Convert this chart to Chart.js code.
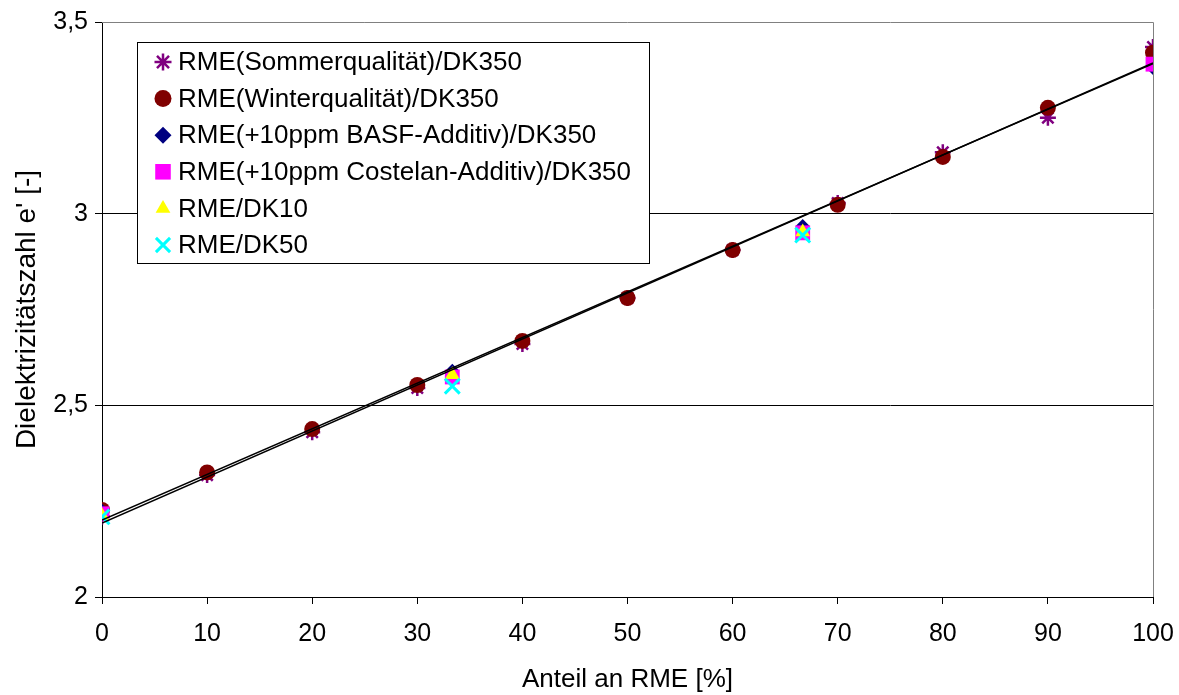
<!DOCTYPE html>
<html>
<head>
<meta charset="utf-8">
<script src="https://cdn.jsdelivr.net/npm/chart.js@4"></script>
<style>
  html, body { margin: 0; padding: 0; background: #fff; }
  #wrap { width: 1179px; height: 695px; }
</style>
</head>
<body>
<div id="wrap"><canvas id="grafico" width="1179" height="695"></canvas></div>
<script>
const anteil = [0, 10, 20, 30, 40, 50, 60, 70, 80, 90, 100]
const sommer = [2.21, 2.318, 2.43, 2.545, 2.66, 2.78, 2.905, 3.028, 3.16, 3.25, 3.435]
const winter = [2.227, 2.325, 2.438, 2.553, 2.668, 2.78, 2.905, 3.023, 3.148, 3.276, 3.42]
const anteilMisch = [0, 33.33, 66.67, 100]
const basf = [2.225, 2.59, 2.968, 3.38]
const costelan = [2.217, 2.574, 2.95, 3.39]
const anteilDK = [0, 33.33, 66.67]
const dk10 = [2.212, 2.58, 2.952]
const dk50 = [2.209, 2.55, 2.944]
// Trendlinien
const trendX = [0, 100]
const trendSommer = [2.193, 3.393]
const trendWinter = [2.201, 3.391]

const yTicks = [2, 2.5, 3, 3.5]
const FONT = '"Liberation Sans", Arial, sans-serif'

const pts = (xs, ys) => xs.map((x, i) => ({ x: x, y: ys[i] }))

const serien = [
  { label: 'RME(Sommerqualität)/DK350', data: pts(anteil, sommer), pointStyle: 'star', pointRadius: 8, borderColor: '#800080', backgroundColor: '#800080', pointBorderWidth: 2.5, order: 6 },
  { label: 'RME(Winterqualität)/DK350', data: pts(anteil, winter), pointStyle: 'circle', pointRadius: 8, borderColor: '#800000', backgroundColor: '#800000', pointBorderWidth: 0, order: 5 },
  { label: 'RME(+10ppm BASF-Additiv)/DK350', data: pts(anteilMisch, basf), pointStyle: 'rectRot', pointRadius: 7, borderColor: '#000080', backgroundColor: '#000080', pointBorderWidth: 0, order: 4 },
  { label: 'RME(+10ppm Costelan-Additiv)/DK350', data: pts(anteilMisch, costelan), pointStyle: 'rect', pointRadius: 10.5, borderColor: '#ff00ff', backgroundColor: '#ff00ff', pointBorderWidth: 0, order: 3 },
  { label: 'RME/DK10', data: pts(anteilDK, dk10), pointStyle: 'triangle', pointRadius: 8.5, borderColor: '#ffff00', backgroundColor: '#ffff00', pointBorderWidth: 0, order: 2 },
  { label: 'RME/DK50', data: pts(anteilDK, dk50), pointStyle: 'crossRot', pointRadius: 10.5, borderColor: '#00ffff', backgroundColor: '#00ffff', pointBorderWidth: 3, order: 1 },
]

const trends = [
  { label: 'trend1', data: pts(trendX, trendSommer), showLine: true, pointRadius: 0, borderColor: '#000', borderWidth: 1.5, order: 0 },
  { label: 'trend2', data: pts(trendX, trendWinter), showLine: true, pointRadius: 0, borderColor: '#000', borderWidth: 1.5, order: 0 },
]

// Rahmen oben/rechts und Legende im Diagramm
const rahmenUndLegende = {
  id: 'rahmenUndLegende',
  beforeDatasetsDraw(chart) {
    const { ctx, chartArea: a } = chart
    ctx.save()
    ctx.strokeStyle = '#808080'
    ctx.lineWidth = 1
    ctx.beginPath()
    ctx.moveTo(a.left, a.top + 0.5)
    ctx.lineTo(a.right + 0.5, a.top + 0.5)
    ctx.lineTo(a.right + 0.5, a.bottom)
    ctx.stroke()
    ctx.restore()
  },
  afterDraw(chart) {
    const { ctx } = chart
    const box = { x: 137, y: 42, w: 512, h: 221 }
    ctx.save()
    ctx.fillStyle = '#fff'
    ctx.fillRect(box.x, box.y, box.w, box.h)
    ctx.strokeStyle = '#000'
    ctx.lineWidth = 1
    ctx.strokeRect(box.x + 0.5, box.y + 0.5, box.w, box.h)
    ctx.font = '26px ' + FONT
    ctx.textBaseline = 'middle'
    serien.forEach((s, i) => {
      const y = 62 + i * 36.6
      const r = s.pointStyle === 'rect' ? 11 : (s.pointStyle === 'crossRot' ? 10 : 8.5)
      ctx.fillStyle = s.backgroundColor
      ctx.strokeStyle = s.borderColor
      ctx.lineWidth = s.pointBorderWidth || 0.01
      if (Chart.helpers && Chart.helpers.drawPoint) {
        Chart.helpers.drawPoint(ctx, { pointStyle: s.pointStyle, radius: r, rotation: 0, borderWidth: s.pointBorderWidth }, 163, y)
      }
      ctx.fillStyle = '#000'
      ctx.fillText(s.label, 178, y + 1)
    })
    ctx.restore()
  }
}

const chart = new Chart(document.getElementById('grafico'), {
  type: 'scatter',
  data: { datasets: [...trends, ...serien] },
  options: {
    responsive: false,
    animation: false,
    layout: { padding: { top: 22, right: 26, left: 0, bottom: 0 } },
    plugins: {
      legend: { display: false },
      tooltip: { enabled: false }
    },
    scales: {
      x: {
        type: 'linear',
        min: 0,
        max: 100,
        afterFit: (s) => { s.height = 98; s.paddingLeft = 0; s.paddingRight = 0 },
        ticks: { stepSize: 10, color: '#000', font: { family: FONT, size: 25 }, padding: 15 },
        grid: { drawOnChartArea: false, tickLength: 7, color: '#000', tickColor: '#000' },
        border: { color: '#000', width: 1 },
        title: { display: true, text: 'Anteil an RME [%]', color: '#000', font: { family: FONT, size: 26 }, padding: { top: 0, bottom: 0 } }
      },
      y: {
        min: 2,
        max: 3.5,
        afterFit: (s) => { s.width = 102; s.paddingTop = 0; s.paddingBottom = 0 },
        afterBuildTicks: (s) => { s.ticks = yTicks.map(v => ({ value: v })) },
        ticks: {
          color: '#000',
          font: { family: FONT, size: 25 },
          padding: 7,
          callback: (v) => String(v).replace('.', ',')
        },
        grid: {
          tickLength: 7,
          tickColor: '#000',
          color: (c) => (c.tick && (c.tick.value === 2.5 || c.tick.value === 3)) ? '#000' : 'rgba(0,0,0,0)'
        },
        border: { color: '#000', width: 1 },
        title: { display: true, text: "Dielektrizitätszahl e' [-]", color: '#000', font: { family: FONT, size: 28 }, padding: { top: 10, bottom: 0 } }
      }
    }
  },
  plugins: [rahmenUndLegende]
})
</script>
</body>
</html>
